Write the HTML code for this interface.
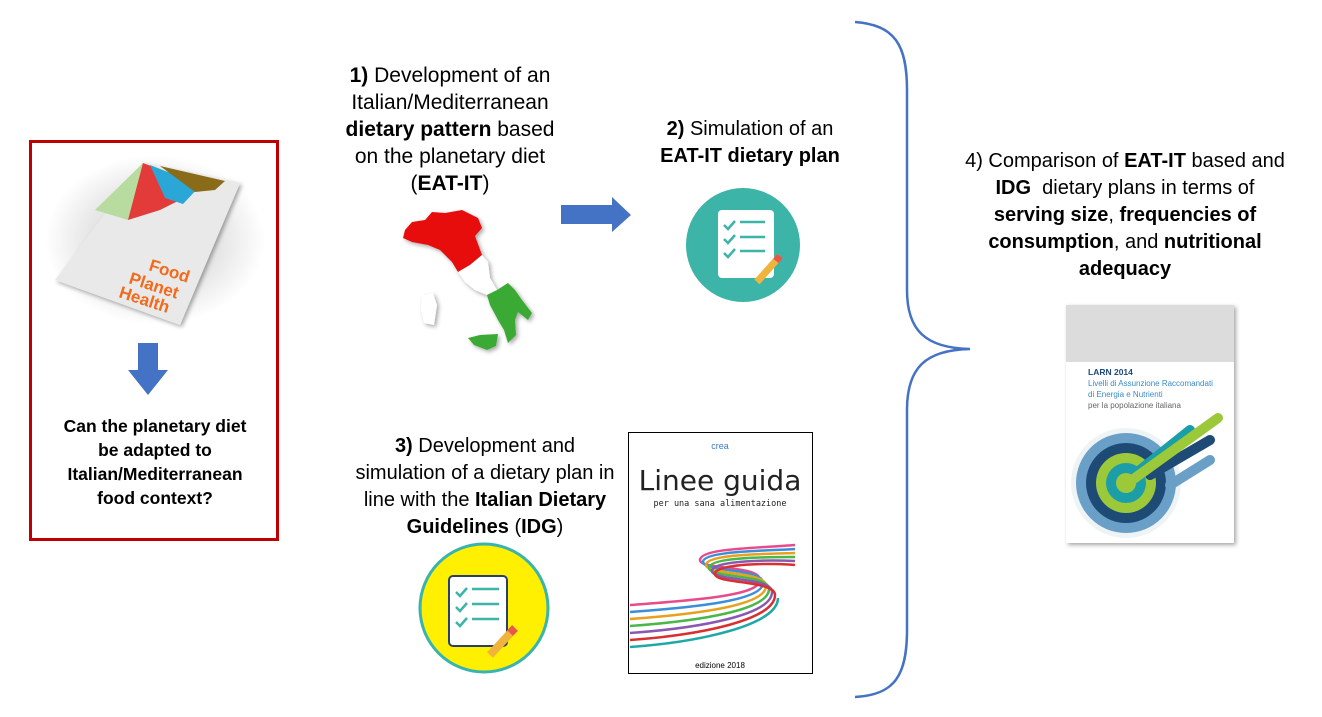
<!DOCTYPE html>
<html><head><meta charset="utf-8"><style>
body{margin:0;width:1322px;height:717px;background:#fff;position:relative;overflow:hidden;font-family:"Liberation Sans",sans-serif;color:#000}
.t{position:absolute;text-align:center;font-size:20px;line-height:27px;white-space:nowrap}
b{font-weight:bold}
</style></head><body>
<svg width="1322" height="717" style="position:absolute;left:0;top:0">
<defs><filter id="sh"><feDropShadow dx="2" dy="2" stdDeviation="2" flood-opacity="0.35"/></filter>
<radialGradient id="glow"><stop offset="0.6" stop-color="#e6e6e6"/><stop offset="1" stop-color="#fff"/></radialGradient></defs>
<rect x="30.5" y="141.5" width="247" height="398" fill="none" stroke="#c00000" stroke-width="3"/>
<ellipse cx="155" cy="240" rx="110" ry="85" fill="url(#glow)"/>
<polygon points="143,163 240,183 180,325 55,280" fill="#e9e9e9" filter="url(#sh)"/>
<polygon points="143,163 165,188 128,220 95,210" fill="#b8dca0"/>
<polygon points="143,163 188,180 178,201 160,210 128,220" fill="#e33a3a"/>
<polygon points="150,165 188,180 200,186 183,204 165,198" fill="#2aa7d6"/>
<polygon points="160,166 225,181 215,190 195,192" fill="#8a6b1a"/>
<text x="148" y="270" font-family="Liberation Sans" font-weight="bold" font-size="17" fill="#f26a1b" transform="rotate(18 148 270)">Food</text>
<text x="128" y="283" font-family="Liberation Sans" font-weight="bold" font-size="17" fill="#f26a1b" transform="rotate(18 128 283)">Planet</text>
<text x="118" y="297" font-family="Liberation Sans" font-weight="bold" font-size="17" fill="#f26a1b" transform="rotate(18 118 297)">Health</text>
<polygon points="138,343 158,343 158,370 168,370 148,395 128,370 138,370" fill="#4472c4"/>
<polygon points="561,205 612,205 612,197 631,215 612,232 612,224 561,224" fill="#4472c4"/>
<g filter="url(#sh)">
<path d="M405,230 L412,222 425,220 432,212 445,213 462,210 478,218 482,228 475,236 482,255 470,265 458,272 452,262 440,250 428,245 412,242 403,238Z" fill="#e81010"/>
<path d="M458,272 L470,265 482,255 488,262 490,278 497,290 487,295 475,290 465,282Z" fill="#fff"/>
<path d="M487,295 L497,290 508,283 515,290 522,300 532,313 528,320 518,312 515,320 516,335 508,343 504,330 498,320 490,305Z" fill="#3aaa35"/>
<path d="M468,338 L480,335 498,334 496,346 487,350 474,345Z" fill="#3aaa35"/>
<path d="M422,296 L433,293 437,305 434,325 424,323 421,310Z" fill="#fff"/>
</g>
<circle cx="743" cy="245" r="57" fill="#3db4a8"/>
<rect x="718" y="210" width="56" height="68" rx="4" fill="#fff"/>
<g stroke="#3db4a8" stroke-width="2.5" fill="none"><path d="M724,225l4,4 7,-8M724,239l4,4 7,-8M724,253l4,4 7,-8M740,222h25M740,237h25M740,251h25"/></g>
<line x1="780" y1="256" x2="757" y2="282" stroke="#f0b43c" stroke-width="7"/>
<line x1="780" y1="256" x2="776" y2="261" stroke="#e7584a" stroke-width="7"/>
<circle cx="484" cy="608" r="64" fill="#ffef00" stroke="#38b4b0" stroke-width="3"/>
<rect x="449" y="576" width="58" height="70" rx="4" fill="#fff" stroke="#2a3f6c" stroke-width="2"/>
<g stroke="#3db4a8" stroke-width="2.5" fill="none"><path d="M456,592l4,4 7,-8M456,607l4,4 7,-8M456,622l4,4 7,-8M472,589h27M472,604h27M472,619h27"/></g>
<line x1="515" y1="628" x2="490" y2="655" stroke="#f0b43c" stroke-width="8"/>
<line x1="515" y1="628" x2="510" y2="633" stroke="#e7584a" stroke-width="8"/>
<rect x="628.5" y="432.5" width="184" height="241" fill="#fff" stroke="#000" stroke-width="1"/>
<text x="720" y="449" font-size="9" fill="#3a7bbf" text-anchor="middle" font-family="Liberation Sans">crea</text>
<text x="720" y="490" font-size="28" text-anchor="middle" font-family="DejaVu Sans" fill="#222">Linee guida</text>
<text x="720" y="506" font-size="8.5" text-anchor="middle" font-family="DejaVu Sans Mono" fill="#222">per una sana alimentazione</text>
<g fill="none" stroke-width="2.5">
<path d="M630,605 C700,600 760,595 760,580 C760,565 700,570 700,560 C700,548 760,548 795,545" stroke="#e84a8a"/>
<path d="M630,612 C700,607 763,600 763,583 C763,568 703,572 703,562 C703,551 763,551 795,549" stroke="#3b8fd8"/>
<path d="M630,619 C700,614 766,605 766,586 C766,571 706,575 706,565 C706,554 766,554 795,553" stroke="#e8a020"/>
<path d="M630,626 C700,621 769,610 769,589 C769,574 709,578 709,568 C709,557 769,557 795,557" stroke="#4ab848"/>
<path d="M630,633 C700,628 772,615 772,592 C772,577 712,581 712,571 C712,560 772,560 795,561" stroke="#8a58b0"/>
<path d="M630,640 C700,635 775,620 775,595 C775,580 715,584 715,574 C715,563 775,563 795,565" stroke="#d83030"/>
<path d="M630,647 C700,642 778,625 778,598" stroke="#20a8a8"/>
</g>
<text x="720" y="668" font-size="8" text-anchor="middle" font-family="Liberation Sans">edizione 2018</text>
<path d="M855,22 C895,25 907,45 907,90 L907,290 C907,330 925,348 970,349 C925,350 907,368 907,410 L907,630 C907,675 895,695 855,697" fill="none" stroke="#4472c4" stroke-width="2.5"/>
<g filter="url(#sh)"><rect x="1066" y="305" width="168" height="238" fill="#fff"/></g>
<rect x="1066" y="305" width="168" height="57" fill="#dcdcdc"/>
<text x="1088" y="375" font-size="8.5" font-weight="bold" fill="#1d4a7a" font-family="Liberation Sans">LARN 2014</text>
<text x="1088" y="386" font-size="8" fill="#3a8ac8" font-family="Liberation Sans">Livelli di Assunzione Raccomandati</text>
<text x="1088" y="397" font-size="8" fill="#3a8ac8" font-family="Liberation Sans">di Energia e Nutrienti</text>
<text x="1088" y="408" font-size="8" fill="#666" font-family="Liberation Sans">per la popolazione italiana</text>
<circle cx="1126" cy="483" r="55" fill="#eef3f6"/>
<circle cx="1126" cy="483" r="50" fill="#6a9fc8"/>
<circle cx="1126" cy="483" r="40" fill="#1e4a76"/>
<circle cx="1126" cy="483" r="30" fill="#9cc93a"/>
<circle cx="1126" cy="483" r="20" fill="#1c9ea8"/>
<circle cx="1126" cy="483" r="10" fill="#9cc93a"/>
<g stroke-linecap="round" stroke-width="10"><line x1="1140" y1="470" x2="1190" y2="430" stroke="#1c9ea8"/><line x1="1150" y1="475" x2="1210" y2="440" stroke="#1e4a76"/><line x1="1128" y1="483" x2="1218" y2="418" stroke="#9cc93a"/><line x1="1170" y1="485" x2="1210" y2="460" stroke="#6a9fc8"/></g>
</svg>
<div class="t" style="left:30px;width:250px;top:414px;font-weight:bold;font-size:17.5px;line-height:24px">Can the planetary diet<br>be adapted to<br>Italian/Mediterranean<br>food context?</div>
<div class="t" style="left:300px;width:300px;top:62px;font-size:21px"><b>1)</b> Development of an<br>Italian/Mediterranean<br><b>dietary pattern</b> based<br>on the planetary diet<br>(<b>EAT-IT</b>)</div>
<div class="t" style="left:630px;width:240px;top:116px"><b>2)</b> Simulation of an<br><b>EAT-IT dietary plan</b></div>
<div class="t" style="left:320px;width:330px;top:433px"><b>3)</b> Development and<br>simulation of a dietary plan in<br>line with the <b>Italian Dietary<br>Guidelines</b> (<b>IDG</b>)</div>
<div class="t" style="left:935px;width:380px;top:148px">4) Comparison of <b>EAT-IT</b> based and<br><b>IDG</b>&nbsp; dietary plans in terms of<br><b>serving size</b>, <b>frequencies of<br>consumption</b>, and <b>nutritional<br>adequacy</b></div>
</body></html>
